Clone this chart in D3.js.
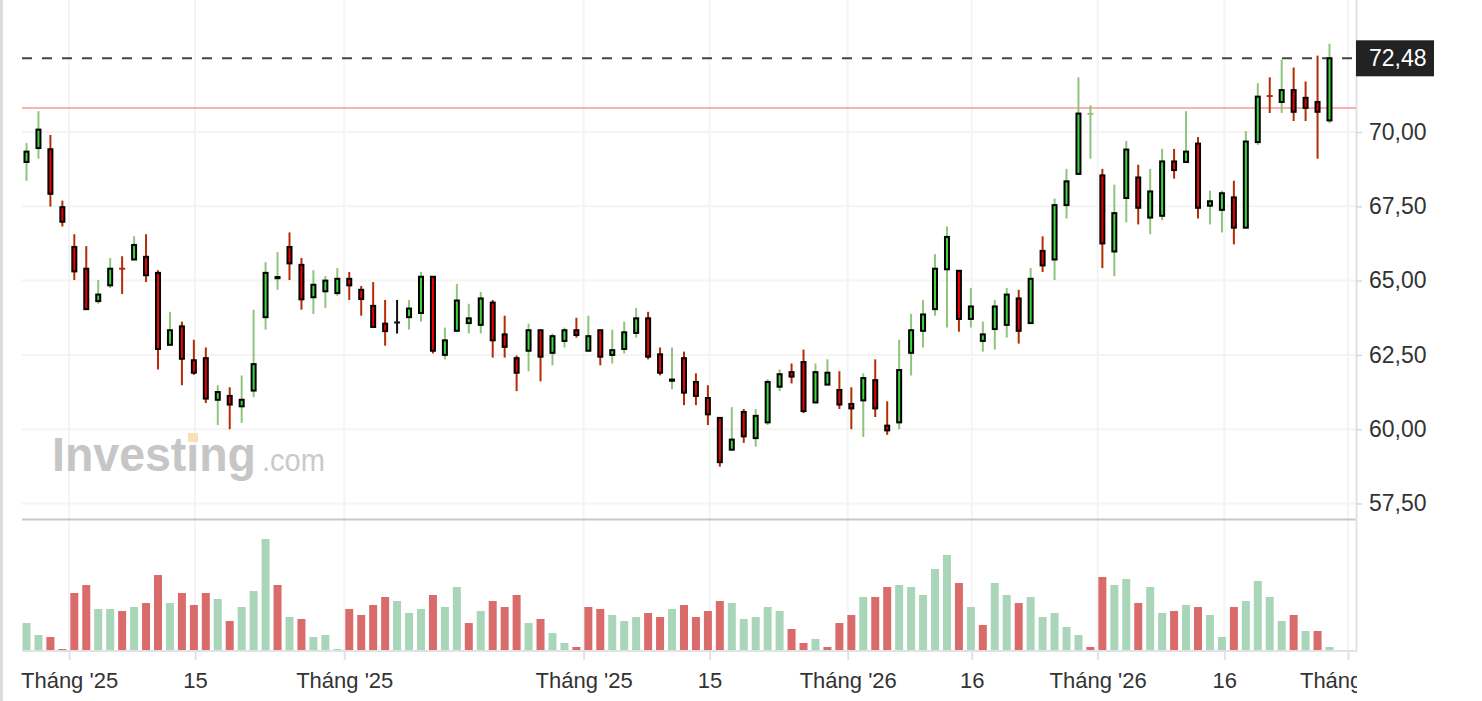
<!DOCTYPE html>
<html>
<head>
<meta charset="utf-8">
<script src="https://cdn.jsdelivr.net/npm/d3@7"></script>
<style>
  body { margin: 0; background: #fff; }
  svg { display: block; }
</style>
</head>
<body>
<script>
// daily candles
const OPEN = [68.99,69.46,69.42,67.47,66.13,65.40,64.31,64.84,65.40,65.71, 65.80,65.26,62.84,63.46,62.32,62.39,60.99,61.12,60.77,61.30,
  63.77,65.08,66.13,65.53,64.44,64.64,64.58,65.06,64.69,64.15, 63.55,63.59,63.77,63.91,65.13,62.50,63.31,63.57,63.51,64.26,
  63.19,62.39,62.64,63.33,62.57,62.97,63.33,62.64,63.33,62.50, 62.70,63.24,63.73,62.52,61.63,62.39,61.59,61.05,60.38,59.31,
  60.58,59.70,60.23,61.43,61.92,62.26,60.90,61.50,61.32,60.85, 60.97,61.65,60.12,60.23,62.57,63.31,64.04,65.38,65.33,63.71,
  62.97,63.37,63.51,64.40,63.57,66.00,65.71,67.54,68.59,70.60, 68.54,65.98,67.78,68.47,67.12,67.18,69.01,68.99,69.61,67.52,
  67.38,67.80,66.78,69.66,71.21,71.01,71.41,71.15,71.01,70.39]
const HIGH = [69.63,70.70,69.90,67.69,66.56,66.16,65.02,65.76,65.82,66.49, 66.56,65.35,63.95,63.62,63.01,62.75,61.48,61.41,61.81,64.02,
  65.62,65.96,66.62,65.76,65.35,65.15,65.42,65.29,64.82,64.95, 64.35,64.35,64.35,65.29,65.15,63.42,64.89,64.22,64.62,64.35,
  63.82,62.48,63.55,63.35,63.22,63.42,63.75,63.82,63.35,63.35, 63.62,64.08,63.95,62.75,62.75,62.61,61.88,61.48,60.38,60.74,
  60.68,60.68,61.68,62.01,62.21,62.68,62.21,62.35,61.95,61.41, 61.88,62.35,60.94,63.01,63.88,64.35,65.89,66.82,65.33,64.75,
  63.62,64.35,64.75,64.69,65.42,66.49,67.76,68.76,71.84,70.90, 68.76,68.23,69.70,68.90,68.76,69.43,69.43,70.70,69.83,68.03,
  68.03,68.36,70.03,71.64,71.84,72.44,72.17,71.70,72.57,72.97]
const LOW = [68.36,69.10,67.49,66.82,65.02,64.04,64.22,64.75,64.55,65.69, 64.95,62.01,62.84,61.48,61.83,60.88,60.14,60.00,60.21,61.08,
  63.35,64.69,65.02,64.02,63.88,64.08,64.49,64.35,63.82,63.44, 62.81,63.22,63.35,63.62,62.55,62.35,63.31,63.22,63.22,62.41,
  62.41,61.28,61.95,61.61,62.15,62.75,63.08,62.62,62.15,62.21, 62.55,63.08,62.35,61.81,61.34,60.81,60.81,60.14,58.74,59.29,
  59.54,59.41,60.14,61.28,61.54,60.54,60.90,61.50,60.68,60.00, 59.74,60.41,59.81,60.00,61.81,62.75,63.82,63.42,63.28,63.42,
  62.61,62.68,63.08,62.88,63.57,65.29,65.02,67.09,68.59,69.10, 65.42,65.15,66.96,66.89,66.56,67.03,68.43,68.99,67.09,66.89,
  66.62,66.22,66.78,69.57,70.64,70.64,70.37,70.37,69.10,70.30]
const CLOSE = [69.34,70.08,67.92,66.98,65.31,64.04,64.53,65.40,65.39,66.20, 65.18,62.70,63.33,62.37,61.90,61.03,61.25,60.83,60.99,62.19,
  65.26,65.12,65.58,64.37,64.86,65.00,65.06,64.84,64.38,63.44, 63.30,63.59,64.06,65.13,62.64,62.99,64.33,63.73,64.40,62.99,
  62.77,61.90,63.33,62.44,63.13,63.33,63.17,63.13,62.44,62.66, 63.26,63.73,62.44,61.90,61.67,61.23,61.12,60.50,58.89,59.65,
  59.76,60.45,61.59,61.85,61.77,60.61,61.92,61.90,60.83,60.70, 61.72,60.70,59.96,61.99,63.33,63.86,65.40,66.47,63.71,64.13,
  63.19,64.13,64.53,63.31,65.06,65.51,67.54,68.34,70.62,70.61, 66.25,67.27,69.41,67.45,68.00,69.01,68.72,69.34,67.45,67.67,
  67.94,66.78,69.68,71.19,71.20,71.41,70.68,70.81,70.68,72.48]
// volume (bar heights as read) and its colour: 1 = green, 0 = red
const VOLUME = [27,15,13,1,57,65,41,41,39,43, 47,75,47,57,45,57,51,29,43,59, 111,65,33,31,13,15,1,41,35,45,
  53,49,37,41,55,43,63,27,39,49, 43,55,27,31,17,7,3,43,41,35, 29,33,37,33,41,45,33,39,49,47,
  31,33,43,39,21,7,11,3,27,35, 53,53,63,65,63,55,81,95,67,43, 25,67,55,47,53,33,37,23,15,3,
  73,65,71,47,63,37,39,45,43,35, 13,43,49,69,53,29,35,19,19,3]
const VOL_UP = [1,1,0,0,0,0,1,1,0,1, 0,0,1,0,0,0,1,0,1,1, 1,0,1,0,1,1,1,0,0,0,
  0,1,1,1,0,1,1,0,1,0, 0,0,1,0,1,1,0,0,0,1, 1,1,0,0,1,0,0,0,0,1,
  1,1,1,1,0,0,1,0,0,0, 1,0,0,1,1,1,1,1,0,1, 0,1,1,0,1,1,1,1,1,0,
  0,1,1,0,1,1,0,1,0,1, 1,0,1,1,1,1,0,1,0,1]

// axis ticks (x ticks sit between candles, in candle-index units)
const X_TICK_POS = [3.56, 14.1, 26.58, 46.6, 57.14, 68.7, 79.07, 89.6, 100.2, 110.55]
const X_TICK_LABELS = ["Tháng '25", "15", "Tháng '25", "Tháng '25", "15", "Tháng '26", "16", "Tháng '26", "16", "Tháng '26"]
const Y_TICKS = [57.5, 60, 62.5, 65, 67.5, 70]
const LAST_PRICE = 72.48
const RED_LEVEL = 70.81

let FONT = '"Liberation Sans", Arial, Helvetica, sans-serif',
    LEFT = 22,
    RIGHT = 1356,
    VOL_BASE = 650

let data = OPEN.map((o, i) => ({i: i, o: o, h: HIGH[i], l: LOW[i], c: CLOSE[i], v: VOLUME[i], up: VOL_UP[i]}))
let fmt = d3.formatLocale({decimal: ",", thousands: ".", grouping: [3], currency: ["", ""]}).format(".2f")

let svg = d3.select("body").append("svg")
  .attr("width", 1482).attr("height", 701)
  .style("background", "#fff")

//Scales
let x = d3.scaleLinear().domain([0, data.length - 1]).range([26.5, 1329.5])
let y = d3.scaleLinear().domain([57.5, 70]).range([503.5, 132])
let yv = d3.scaleLinear().domain([0, 111]).range([VOL_BASE, 539])

svg.append("defs").append("clipPath").attr("id", "xclip")
  .append("rect").attr("x", 21).attr("y", -4).attr("width", RIGHT + 1 - 21).attr("height", 60)

//left border
svg.append("rect").attr("x", 0).attr("y", 0).attr("width", 3).attr("height", 701).attr("fill", "#dcdcdc")

//Grid
let grid = svg.append("g")
grid.selectAll(".hgrid").data(Y_TICKS).enter().append("line")
  .attr("x1", LEFT).attr("x2", RIGHT)
  .attr("y1", d => y(d)).attr("y2", d => y(d))
  .attr("stroke", "#f4f4f5").attr("stroke-width", 2)
grid.selectAll(".vgrid").data(X_TICK_POS).enter().append("line")
  .attr("x1", d => x(d)).attr("x2", d => x(d))
  .attr("y1", 0).attr("y2", VOL_BASE)
  .attr("stroke", "#f3f4f6").attr("stroke-width", 2)

//Watermark
let wm = svg.append("g")
wm.append("text").attr("x", 52).attr("y", 471)
  .attr("font-family", FONT).attr("font-weight", "bold").attr("font-size", 49)
  .attr("textLength", 204).attr("lengthAdjust", "spacingAndGlyphs")
  .attr("fill", "#c6c6c6").text("Investing")
wm.append("rect").attr("x", 188).attr("y", 433).attr("width", 10).attr("height", 9).attr("fill", "#f6e0b6")
wm.append("text").attr("x", 262).attr("y", 471)
  .attr("font-family", FONT).attr("font-size", 31)
  .attr("textLength", 63).attr("lengthAdjust", "spacingAndGlyphs")
  .attr("fill", "#cacaca").text(".com")

//Panel frame
svg.append("line").attr("x1", LEFT).attr("x2", RIGHT).attr("y1", 519.5).attr("y2", 519.5)
  .attr("stroke", "#c8c8c8").attr("stroke-width", 2)
svg.append("line").attr("x1", RIGHT + 0.5).attr("x2", RIGHT + 0.5).attr("y1", 0).attr("y2", 652)
  .attr("stroke", "#dfe3e8").attr("stroke-width", 2)
svg.append("line").attr("x1", LEFT).attr("x2", RIGHT + 1).attr("y1", 651).attr("y2", 651)
  .attr("stroke", "#dfe3e8").attr("stroke-width", 2)

//Reference lines
svg.append("line").attr("x1", LEFT).attr("x2", RIGHT).attr("y1", y(RED_LEVEL)).attr("y2", y(RED_LEVEL))
  .attr("stroke", "#f79a9a").attr("stroke-width", 1.5)
svg.append("line").attr("x1", LEFT).attr("x2", RIGHT).attr("y1", y(LAST_PRICE)).attr("y2", y(LAST_PRICE))
  .attr("stroke", "#444").attr("stroke-width", 2).attr("stroke-dasharray", "10,10")

//Volume
svg.append("g").selectAll(".vol").data(data).enter().append("rect")
  .attr("class", "vol")
  .attr("x", d => x(d.i) - 4).attr("width", 8)
  .attr("y", d => yv(d.v)).attr("height", d => VOL_BASE - yv(d.v))
  .attr("fill", d => d.up ? "#a9d6b9" : "#d96b6b")

//Candles
let candles = svg.append("g").selectAll(".candle").data(data).enter().append("g").attr("class", "candle")
let wickColor = d => d.c === d.o ? "#111" : (d.c > d.o ? "#8ec47c" : "#b52c00")
candles.append("line")
  .attr("x1", d => x(d.i)).attr("x2", d => x(d.i))
  .attr("y1", d => y(d.h)).attr("y2", d => y(d.l))
  .attr("stroke", wickColor).attr("stroke-width", 2)
candles.each(function(d) {
  let g = d3.select(this)
  let top = y(Math.max(d.o, d.c)), bot = y(Math.min(d.o, d.c))
  if (bot - top < 1) {
    g.append("line").attr("x1", x(d.i) - 3).attr("x2", x(d.i) + 3)
      .attr("y1", top).attr("y2", top)
      .attr("stroke", wickColor(d)).attr("stroke-width", 2)
  } else {
    g.append("rect").attr("x", x(d.i) - 2).attr("width", 4)
      .attr("y", top).attr("height", bot - top)
      .attr("fill", d.c > d.o ? "#3ed83e" : "#f20000")
      .attr("stroke", "#000").attr("stroke-width", 2)
  }
})

//Axises
let xAxis = d3.axisBottom(x).tickValues(X_TICK_POS).tickFormat((d, i) => X_TICK_LABELS[i]).tickSize(9).tickPadding(12)
svg.append("g").attr("transform", "translate(0,651)").attr("clip-path", "url(#xclip)")
  .call(xAxis)
  .attr("font-family", FONT).attr("font-size", 22)
  .call(g => g.select(".domain").remove())
  .call(g => g.selectAll(".tick line").attr("stroke", "#dfe3e8").attr("stroke-width", 2))
  .call(g => g.selectAll(".tick text").attr("fill", "#333"))

let yAxis = d3.axisRight(y).tickValues(Y_TICKS).tickFormat(fmt).tickSize(6).tickPadding(7)
svg.append("g").attr("transform", "translate(" + RIGHT + ",0)")
  .call(yAxis)
  .attr("font-family", FONT).attr("font-size", 23)
  .call(g => g.select(".domain").remove())
  .call(g => g.selectAll(".tick line").attr("stroke", "#d6d9de").attr("stroke-width", 1.5))
  .call(g => g.selectAll(".tick text").attr("fill", "#333"))

//Last price tag
svg.append("rect").attr("x", RIGHT).attr("y", y(LAST_PRICE) - 18).attr("width", 78).attr("height", 36).attr("fill", "#222")
svg.append("text").attr("x", 1369).attr("y", y(LAST_PRICE)).attr("dy", "0.35em")
  .attr("font-family", FONT).attr("font-size", 23).attr("fill", "#fff")
  .text(fmt(LAST_PRICE))
</script>
</body>
</html>
